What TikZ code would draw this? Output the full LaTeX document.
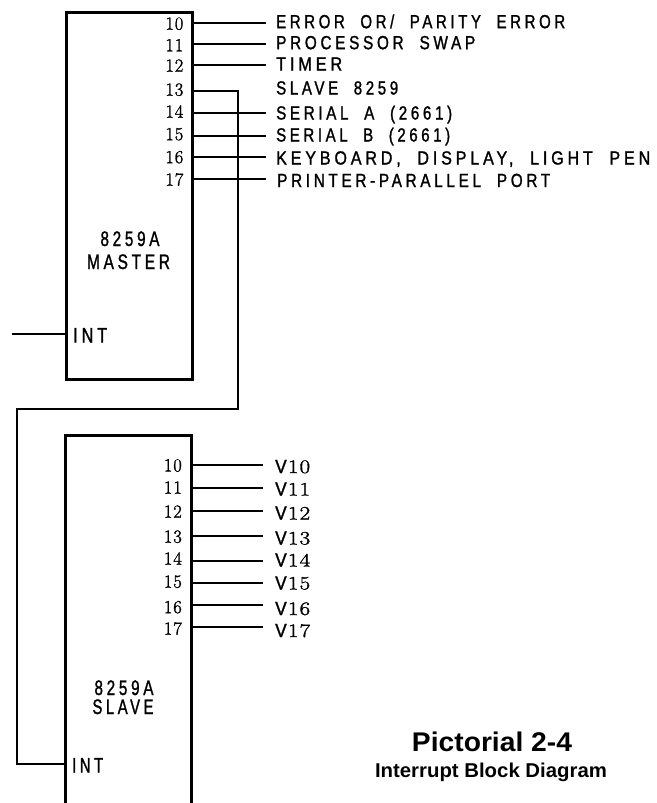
\documentclass[tikz,border=0pt]{standalone}
\usepackage{fontspec}
\usepackage{graphicx}
\newfontfamily\lblfont[LetterSpace=18,FakeStretch=0.75,WordSpace=2,FakeBold=1.2]{Liberation Sans}
\newfontfamily\capfont{Liberation Sans}
\newfontfamily\numfont[LetterSpace=5,FakeBold=1.5]{Latin Modern Roman}
\newcommand\fitw[2]{\resizebox{#1}{\height}{#2}}
\begin{document}
\begin{tikzpicture}[x=1pt,y=-1pt,
  boxst/.style={draw, line width=3pt, inner sep=0pt, minimum width=126pt},
  wire/.style={line width=2pt},
  pinlbl/.style={anchor=base west, inner sep=0pt, font=\lblfont\fontsize{19}{19}\selectfont},
  pinnum/.style={anchor=base east, inner sep=0pt, font=\numfont\fontsize{18.5}{18.5}\selectfont},
  blklbl/.style={anchor=base, inner sep=0pt, font=\lblfont\fontsize{21}{21}\selectfont},
  intlbl/.style={anchor=base west, inner sep=0pt, font=\lblfont\fontsize{21}{21}\selectfont},
  caplbl/.style={anchor=base, inner sep=0pt, font=\capfont\bfseries}]
\useasboundingbox (0,0) rectangle (656,803);
\fill[white] (0,0) rectangle (656,803);

% blocks
\node[boxst, minimum height=367pt] (master) at (129,195.5) {};
\node[boxst, minimum height=420pt] (slave) at (128,645) {};

% master pins
\foreach \i/\y/\nb in {0/23/29.7, 1/44/51.3, 2/65/71.7, 3/91/95.7, 4/113/117.7, 5/136/140.2, 6/157/163.2, 7/179/185.7}{
  \coordinate (mp\i) at (192,\y);
  \node[pinnum] (mn\i) at (183.5,\nb) {1\i};
}
\foreach \i/\y in {0/23, 1/44, 2/65, 4/113, 5/136, 6/157, 7/179}{
  \coordinate (me\i) at (266,\y);
  \draw[wire] (mp\i) -- (me\i);
}
\node[pinlbl] (ml0) at (276,28.2) {\fitw{289pt}{ERROR OR/ PARITY ERROR}};
\node[pinlbl] (ml1) at (276,49.2) {\fitw{199pt}{PROCESSOR SWAP}};
\node[pinlbl] (ml2) at (276,70.5) {\fitw{66pt}{TIMER}};
\node[pinlbl] (ml3) at (276,94.5) {\fitw{122pt}{SLAVE 8259}};
\node[pinlbl] (ml4) at (276,119.5) {\fitw{176pt}{SERIAL A (2661)}};
\node[pinlbl] (ml5) at (276,141.5) {\fitw{174pt}{SERIAL B (2661)}};
\node[pinlbl] (ml6) at (276,164.5) {\fitw{374pt}{KEYBOARD, DISPLAY, LIGHT PEN}};
\node[pinlbl] (ml7) at (277,187) {\fitw{273pt}{PRINTER-PARALLEL PORT}};

% master texts
\node[blklbl] (mt1) at (130,246) {\fitw{59pt}{8259A}};
\node[blklbl] (mt2) at (128.5,269) {\fitw{83pt}{MASTER}};
\node[intlbl] (mint) at (73,342.5) {\fitw{34pt}{INT}};
\coordinate (mintA) at (66,334);
\coordinate (mintB) at (12,334);
\draw[wire] (mintB) -- (mintA);

% slave pins
\foreach \i/\y/\nb/\vb in {0/465/471.4/473, 1/488/493.7/495.5, 2/511/517.7/519.5, 3/536/542.7/544.5, 4/561/564.7/566.5, 5/583/587.7/589.5, 6/605/613.2/615, 7/627/634.7/637}{
  \coordinate (sp\i) at (191,\y);
  \coordinate (se\i) at (263,\y);
  \draw[wire] (sp\i) -- (se\i);
  \node[pinnum] (sn\i) at (182,\nb) {1\i};
  \node[pinlbl] (sv\i) at (275,\vb) {\fitw{35pt}{V\hspace{1pt}{\numfont 1\i}}};
}

% slave texts
\node[blklbl] (st1) at (124,695) {\fitw{59pt}{8259A}};
\node[blklbl] (st2) at (123,714) {\fitw{61pt}{SLAVE}};
\node[intlbl] (sint) at (72,772.5) {\fitw{31pt}{INT}};

% cascade line from master IR3 to slave INT
\coordinate (r1) at (238,91);
\coordinate (r2) at (238,409);
\coordinate (r3) at (17,409);
\coordinate (r4) at (17,764);
\coordinate (sintA) at (65,764);
\draw[wire, line join=miter] (mp3) -- (r1) -- (r2) -- (r3) -- (r4) -- (sintA);

% caption
\node[caplbl] (cap1) at (492,751) {\fitw{160pt}{\fontsize{27}{27}\selectfont Pictorial 2-4}};
\node[caplbl] (cap2) at (491,777) {\fitw{232pt}{\fontsize{20}{20}\selectfont Interrupt Block Diagram}};
\end{tikzpicture}
\end{document}
